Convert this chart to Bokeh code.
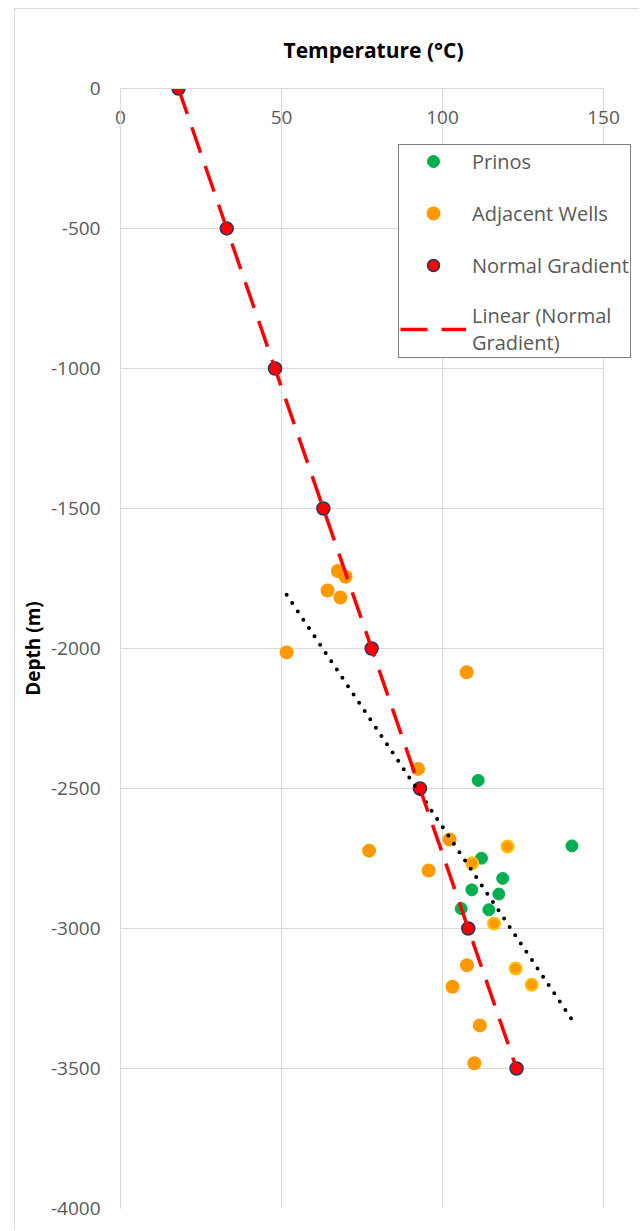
import numpy as np
from bokeh.plotting import figure
from bokeh.models import Range1d, FixedTicker, Legend, LegendItem
from bokeh.embed import file_html
from bokeh.resources import INLINE

# ---------------- data ----------------
prinos_temp = [111.1, 140.2, 112.1, 118.7, 109.1, 117.5, 105.8, 114.4]
prinos_depth = [-2471, -2705, -2749, -2821, -2862, -2877, -2929, -2933]

adjacent_temp = [67.5, 69.9, 64.3, 68.3, 51.6, 107.5, 92.4, 102.2, 120.2, 77.2,
                 109.2, 95.7, 116.0, 107.6, 122.7, 103.1, 127.7, 111.6, 109.9]
adjacent_depth = [-1723, -1744, -1793, -1818, -2014, -2085, -2430, -2682, -2707, -2722,
                  -2767, -2793, -2982, -3131, -3143, -3208, -3201, -3346, -3481]
adjacent_ringed = [8, 10, 12, 14, 16]

normal_temp = [18, 33, 48, 63, 78, 93, 108, 123]
normal_depth = [0, -500, -1000, -1500, -2000, -2500, -3000, -3500]

x_ticks = [0, 50, 100, 150]
y_ticks = [0, -500, -1000, -1500, -2000, -2500, -3000, -3500, -4000]

FONT = "Open Sans"
GREY = "#595959"
GRID = "#d9d9d9"

X_MIN, X_MAX = 0, 150
# frame is widened to the right page edge so the legend can overhang the 150 gridline
X_VIEW_MAX = X_MAX + 37 / (483 / (X_MAX - X_MIN))

p = figure(width=625, height=1222, output_backend="svg", toolbar_location=None,
           x_range=Range1d(X_MIN, X_VIEW_MAX), y_range=Range1d(-4000, 0),
           x_axis_location="above",
           min_border_left=105, min_border_top=78, min_border_right=0, min_border_bottom=23)
p.styles = {"margin-left": "14px", "margin-top": "8px",
            "border-left": "1px solid #d9d9d9", "border-top": "1px solid #d9d9d9"}

p.title.text = "Temperature (°C)"
p.title.align = "left"
p.title.offset = 163
p.title.text_font = FONT
p.title.text_font_style = "bold"
p.title.text_font_size = "21px"
p.title.text_color = "black"
p.title.standoff = 49

p.outline_line_color = None
p.background_fill_color = "white"
p.border_fill_color = "white"

xa = p.xaxis[0]
xa.ticker = FixedTicker(ticks=x_ticks)
xa.bounds = (X_MIN, X_MAX)
xa.major_tick_out = 0
xa.major_tick_in = 0
xa.minor_tick_out = 0
xa.minor_tick_in = 0
xa.major_label_standoff = -35
xa.axis_line_color = GRID
xa.major_label_text_color = GREY
xa.major_label_text_font = FONT
xa.major_label_text_font_size = "19px"

ya = p.yaxis[0]
ya.ticker = FixedTicker(ticks=y_ticks)
ya.major_label_overrides = {t: str(t) for t in y_ticks}
ya.major_tick_out = 0
ya.major_tick_in = 0
ya.minor_tick_out = 0
ya.minor_tick_in = 0
ya.major_label_standoff = 20
ya.axis_line_color = GRID
ya.major_label_text_color = GREY
ya.major_label_text_font = FONT
ya.major_label_text_font_size = "19px"
ya.axis_label = "Depth (m)"
ya.axis_label_text_font = FONT
ya.axis_label_text_font_style = "bold"
ya.axis_label_text_font_size = "19px"
ya.axis_label_text_color = "black"
ya.axis_label_standoff = 2

p.xgrid.ticker = FixedTicker(ticks=x_ticks)
p.xgrid.grid_line_color = GRID
try:
    p.ygrid.ticker = FixedTicker(ticks=y_ticks)
    p.ygrid.cross_bounds = (X_MIN, X_MAX)
    p.ygrid.grid_line_color = GRID
except Exception:
    p.ygrid.grid_line_color = None
    p.segment(x0=[X_MIN] * len(y_ticks), x1=[X_MAX] * len(y_ticks),
              y0=y_ticks, y1=y_ticks, line_color=GRID, line_width=1, level="underlay")

# ---------------- series ----------------
r_pr = p.scatter(prinos_temp, prinos_depth, size=12,
                 fill_color="#00B050", line_color="#00B050")

adj_line = ["#FFC000" if i in adjacent_ringed else "#FF9900" for i in range(len(adjacent_temp))]
r_adj = p.scatter(x=adjacent_temp, y=adjacent_depth, size=12,
                  fill_color="#FF9900", line_color=adj_line, line_width=2)

r_norm = p.scatter(normal_temp, normal_depth, size=13,
                   fill_color="#FF0000", line_color="#1F3864", line_width=1.5)

# combined linear trend (all measured points)
all_t = np.array(prinos_temp + adjacent_temp)
all_d = np.array(prinos_depth + adjacent_depth)
k, b = np.polyfit(all_t, all_d, 1)
tx = np.array([all_t.min(), all_t.max()])
p.line(tx, k * tx + b, line_color="black", line_width=4,
       line_dash="0 10", line_cap="round")

# linear trend of the normal gradient
nk, nb = np.polyfit(normal_temp, normal_depth, 1)
nx = np.array([min(normal_temp), max(normal_temp)])
r_lin = p.line(nx, nk * nx + nb, line_color="#FF0000", line_width=3.5, line_dash="27 14")

legend = Legend(items=[
    LegendItem(label="Prinos", renderers=[r_pr]),
    LegendItem(label="Adjacent Wells", renderers=[r_adj], index=0),
    LegendItem(label="Normal Gradient", renderers=[r_norm]),
    LegendItem(label="Linear (Normal\nGradient)", renderers=[r_lin]),
], location=(278, 850))
legend.border_line_color = "black"
legend.border_line_width = 1.5
legend.background_fill_color = "white"
legend.background_fill_alpha = 1
legend.label_text_font = FONT
legend.label_text_font_size = "20px"
legend.label_text_color = GREY
legend.glyph_width = 66
legend.glyph_height = 30
legend.label_height = 30
legend.label_standoff = 6
legend.spacing = 22
legend.padding = 1
legend.margin = 0
p.add_layout(legend, "center")

open("out.html", "w").write(file_html(p, INLINE))
